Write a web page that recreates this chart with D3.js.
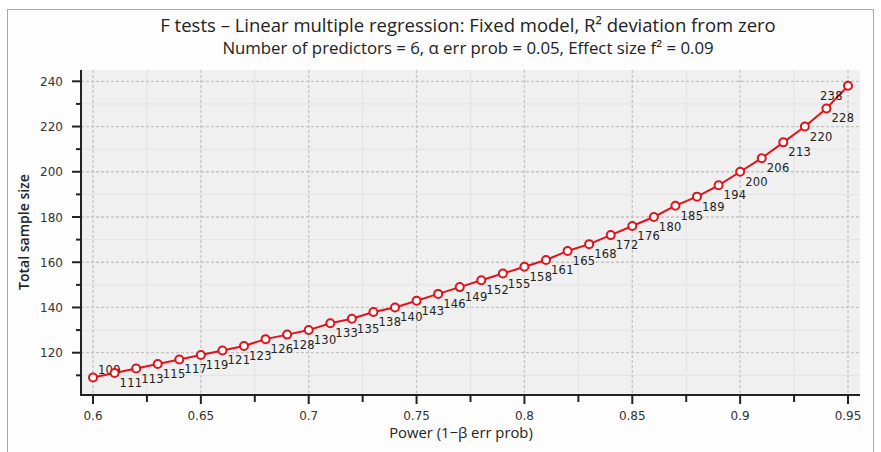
<!DOCTYPE html>
<html>
<head>
<meta charset="utf-8">
<script src="https://cdn.jsdelivr.net/npm/d3@7"></script>
<style>
  body { margin: 0; background: #fff; }
  svg { display: block; }
</style>
</head>
<body>
<div class="chart"></div>
<script>
// power (1-beta) on x, total sample size on y
var power = [0.60, 0.61, 0.62, 0.63, 0.64, 0.65, 0.66, 0.67, 0.68, 0.69,
             0.70, 0.71, 0.72, 0.73, 0.74, 0.75, 0.76, 0.77, 0.78, 0.79,
             0.80, 0.81, 0.82, 0.83, 0.84, 0.85, 0.86, 0.87, 0.88, 0.89,
             0.90, 0.91, 0.92, 0.93, 0.94, 0.95];
var sampleSize = [109, 111, 113, 115, 117, 119, 121, 123, 126, 128,
                  130, 133, 135, 138, 140, 143, 146, 149, 152, 155,
                  158, 161, 165, 168, 172, 176, 180, 185, 189, 194,
                  200, 206, 213, 220, 228, 238];
var xTicks = [0.6, 0.65, 0.7, 0.75, 0.8, 0.85, 0.9, 0.95];
var xMinor = [0.625, 0.675, 0.725, 0.775, 0.825, 0.875, 0.925];
var yTicks = [120, 140, 160, 180, 200, 220, 240];
var yMinor = [110, 130, 150, 170, 190, 210, 230];

var title = "F tests \u2013 Linear multiple regression: Fixed model, R\u00B2 deviation from zero";
var subtitle = "Number of predictors = 6, \u03B1 err prob = 0.05, Effect size f\u00B2 = 0.09";

var W = 881, H = 452;
var plot = {left: 81, right: 860, top: 70, bottom: 395};

var svg = d3.select(".chart").append("svg")
    .attr("width", W)
    .attr("height", H);

// panel frame
svg.append("rect")
    .attr("x", 7.5).attr("y", 9.5)
    .attr("width", 866).attr("height", 460)
    .attr("fill", "#fdfdfd")
    .attr("stroke", "#a8a8a8");

var x = d3.scaleLinear().domain([0.6, 0.95]).range([93, 848]);
var y = d3.scaleLinear().domain([120, 240]).range([352.7, 81.3]);

svg.append("rect")
    .attr("x", plot.left).attr("y", plot.top)
    .attr("width", plot.right - plot.left).attr("height", plot.bottom - plot.top)
    .attr("fill", "#f0f0f0");

var grid = svg.append("g");
grid.selectAll(".xminor").data(xMinor).enter().append("line")
    .attr("x1", d => x(d)).attr("x2", d => x(d))
    .attr("y1", plot.top).attr("y2", plot.bottom)
    .attr("stroke", "#e2e2e2").attr("stroke-width", 1);
grid.selectAll(".yminor").data(yMinor).enter().append("line")
    .attr("y1", d => y(d)).attr("y2", d => y(d))
    .attr("x1", plot.left).attr("x2", plot.right)
    .attr("stroke", "#e2e2e2").attr("stroke-width", 1);
grid.selectAll(".xmajor").data(xTicks).enter().append("line")
    .attr("x1", d => x(d)).attr("x2", d => x(d))
    .attr("y1", plot.top).attr("y2", plot.bottom)
    .attr("stroke", "#c4c4c4").attr("stroke-width", 1.3)
    .attr("stroke-dasharray", "3,2");
grid.selectAll(".ymajor").data(yTicks).enter().append("line")
    .attr("y1", d => y(d)).attr("y2", d => y(d))
    .attr("x1", plot.left).attr("x2", plot.right)
    .attr("stroke", "#c4c4c4").attr("stroke-width", 1.3)
    .attr("stroke-dasharray", "3,2");

// axes
var xAxis = svg.append("g").attr("transform", "translate(0," + plot.bottom + ")");
xAxis.append("line").attr("x1", plot.left - 1).attr("x2", plot.right)
    .attr("stroke", "#222").attr("stroke-width", 2);
xAxis.selectAll(".maj").data(xTicks).enter().append("line")
    .attr("x1", d => x(d)).attr("x2", d => x(d)).attr("y1", 0).attr("y2", 9)
    .attr("stroke", "#222").attr("stroke-width", 2);
xAxis.selectAll(".min").data(xMinor).enter().append("line")
    .attr("x1", d => x(d)).attr("x2", d => x(d)).attr("y1", 0).attr("y2", 7)
    .attr("stroke", "#222").attr("stroke-width", 2);
xAxis.selectAll("text").data(xTicks).enter().append("text")
    .attr("x", d => x(d)).attr("y", 25)
    .attr("text-anchor", "middle")
    .attr("font-family", "DejaVu Sans").attr("font-size", 12).attr("fill", "#333")
    .text(d => d3.format("")(d));

var yAxis = svg.append("g").attr("transform", "translate(" + plot.left + ",0)");
yAxis.append("line").attr("y1", plot.top).attr("y2", plot.bottom + 1)
    .attr("stroke", "#222").attr("stroke-width", 2);
yAxis.selectAll(".maj").data(yTicks).enter().append("line")
    .attr("y1", d => y(d)).attr("y2", d => y(d)).attr("x1", 0).attr("x2", -9)
    .attr("stroke", "#222").attr("stroke-width", 2);
yAxis.selectAll(".min").data(yMinor).enter().append("line")
    .attr("y1", d => y(d)).attr("y2", d => y(d)).attr("x1", 0).attr("x2", -5)
    .attr("stroke", "#222").attr("stroke-width", 2);
yAxis.selectAll("text").data(yTicks).enter().append("text")
    .attr("x", -18).attr("y", d => y(d) + 4.5)
    .attr("text-anchor", "end")
    .attr("font-family", "DejaVu Sans").attr("font-size", 12).attr("fill", "#333")
    .text(d => d);

// titles
svg.append("text").attr("x", 468).attr("y", 32)
    .attr("text-anchor", "middle")
    .attr("font-family", "Open Sans").attr("font-size", 18.5).attr("fill", "#222")
    .text(title);
svg.append("text").attr("x", 468).attr("y", 54)
    .attr("text-anchor", "middle")
    .attr("font-family", "Open Sans").attr("font-size", 16.8).attr("fill", "#222")
    .text(subtitle);
svg.append("text").attr("x", 461).attr("y", 438)
    .attr("text-anchor", "middle")
    .attr("font-family", "Open Sans").attr("font-size", 14.8).attr("fill", "#222")
    .text("Power (1\u2212\u03B2 err prob)");
svg.append("text")
    .attr("transform", "translate(29,232) rotate(-90)")
    .attr("text-anchor", "middle")
    .attr("font-family", "Open Sans").attr("font-weight", 600)
    .attr("font-size", 14).attr("fill", "#222")
    .text("Total sample size");

// series
var pts = power.map((p, i) => ({p: p, n: sampleSize[i], i: i}));
var line = d3.line().x(d => x(d.p)).y(d => y(d.n));
svg.append("path").datum(pts)
    .attr("d", line)
    .attr("fill", "none").attr("stroke", "#e0121a").attr("stroke-width", 2);

svg.selectAll(".lbl").data(pts).enter().append("text")
    .attr("x", d => d.i === pts.length - 1 ? x(d.p) - 28 : x(d.p) + 5)
    .attr("y", d => d.i === 0 ? y(d.n) - 4 : y(d.n) + 14)
    .attr("font-family", "DejaVu Sans").attr("font-size", 11.5).attr("fill", "#222")
    .attr("letter-spacing", 0.3)
    .text(d => d.n);

svg.selectAll(".pt").data(pts).enter().append("circle")
    .attr("cx", d => x(d.p)).attr("cy", d => y(d.n)).attr("r", 4)
    .attr("fill", "#fff").attr("stroke", "#e0121a").attr("stroke-width", 2);
</script>
</body>
</html>
